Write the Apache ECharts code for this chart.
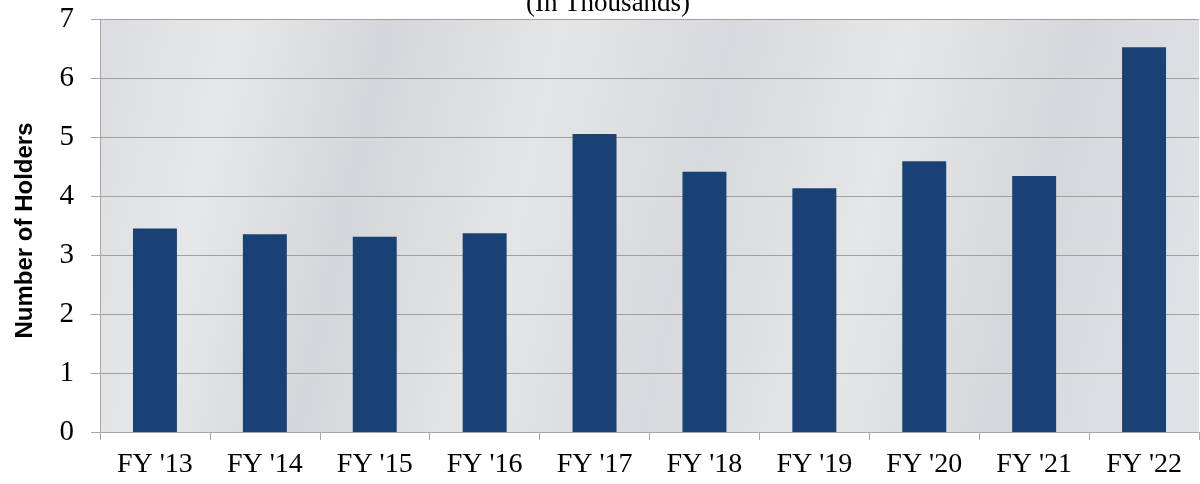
<!DOCTYPE html>
<html>
<head>
<meta charset="utf-8">
<script src="https://cdn.jsdelivr.net/npm/echarts@6/dist/echarts.min.js"></script>
<style>html,body{margin:0;padding:0;background:#fff;}#c{width:1200px;height:484px;}</style>
</head>
<body>
<div id="c"></div>
<script>
const categories = ["FY '13", "FY '14", "FY '15", "FY '16", "FY '17", "FY '18", "FY '19", "FY '20", "FY '21", "FY '22"];
const holders = [3.45, 3.35, 3.31, 3.37, 5.05, 4.41, 4.13, 4.59, 4.34, 6.52];
const titleText = "(In Thousands)";
const yName = "Number of Holders";

const chart = echarts.init(document.getElementById('c'), null, {renderer: 'canvas'});
chart.setOption({
  animation: false,
  backgroundColor: '#ffffff',
  title: {
    text: titleText,
    left: 603, top: -15, textAlign: 'center',
    textStyle: {fontFamily: 'Liberation Serif', fontSize: 27, fontWeight: 'normal', color: '#000'}
  },
  grid: {
    left: 100, right: 1, top: 19, bottom: 52,
    show: true,
    backgroundColor: {
      type: 'linear', x: 0, y: 0, x2: 1, y2: 0.6,
      colorStops: [
        {offset: 0, color: '#dcdde0'},
        {offset: 0.12, color: '#e6e7e9'},
        {offset: 0.25, color: '#d5d6d9'},
        {offset: 0.4, color: '#e4e5e7'},
        {offset: 0.55, color: '#d8d9dc'},
        {offset: 0.7, color: '#e5e6e8'},
        {offset: 0.85, color: '#d6d7da'},
        {offset: 1, color: '#e1e2e5'}
      ]
    },
    borderWidth: 0
  },
  xAxis: {
    type: 'category',
    data: categories,
    axisLine: {show: true, lineStyle: {color: '#a6a6a6', width: 1}},
    axisTick: {show: true, length: 8, lineStyle: {color: '#a6a6a6'}},
    axisLabel: {fontFamily: 'Liberation Serif', fontSize: 28, color: '#000', margin: 19}
  },
  yAxis: {
    type: 'value',
    min: 0, max: 7, interval: 1,
    name: yName,
    nameLocation: 'middle',
    nameGap: 63,
    nameTextStyle: {fontFamily: 'Liberation Sans', fontSize: 24, fontWeight: 'bold', color: '#000', padding: [0, 10, 0, 0]},
    axisLine: {show: true, lineStyle: {color: '#a6a6a6', width: 1}},
    axisTick: {show: true, length: 9, lineStyle: {color: '#a6a6a6'}},
    axisLabel: {fontFamily: 'Liberation Serif', fontSize: 29, color: '#000', margin: 26},
    splitLine: {show: true, lineStyle: {color: '#a0a0a0', width: 1}}
  },
  series: [{
    type: 'bar',
    data: holders,
    barWidth: '40%',
    itemStyle: {color: '#1a4174'}
  }]
});
</script>
</body>
</html>
